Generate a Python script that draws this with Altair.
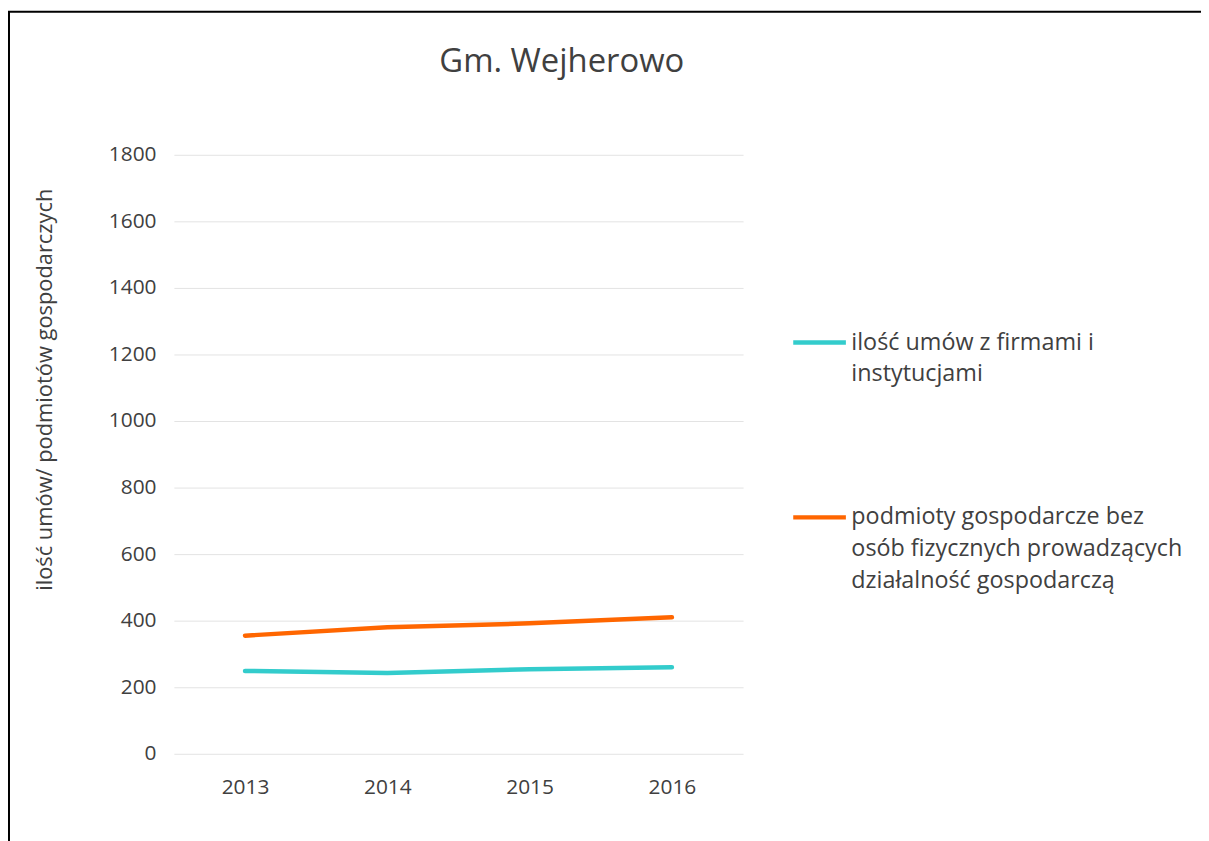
import altair as alt
import pandas as pd

years = ["2013", "2014", "2015", "2016"]
series_names = [
    "ilość umów z firmami i instytucjami",
    "podmioty gospodarcze bez osób fizycznych prowadzących działalność gospodarczą",
]
umowy = [249, 243, 254, 260]
podmioty = [355, 380, 392, 410]
y_ticks = [0, 200, 400, 600, 800, 1000, 1200, 1400, 1600, 1800]
colors = ["#33CCCC", "#FF6600"]

rows = []
for yr, v in zip(years, umowy):
    rows.append({"rok": yr, "seria": series_names[0], "wartosc": v})
for yr, v in zip(years, podmioty):
    rows.append({"rok": yr, "seria": series_names[1], "wartosc": v})
df = pd.DataFrame(rows)

FONT = "Open Sans"
TXT = "#404040"

label_expr = (
    "datum.label == '" + series_names[0] + "' ? ['ilość umów z firmami i', 'instytucjami'] : "
    "['podmioty gospodarcze bez', 'osób fizycznych prowadzących', 'działalność gospodarczą']"
)

lines = alt.Chart(df).mark_line(strokeWidth=4.5, strokeCap="round", strokeJoin="round").encode(
    x=alt.X("rok:O", sort=years, title=None,
            axis=alt.Axis(labelAngle=0, domain=False, ticks=False, grid=False,
                          labelPadding=23, labelFontSize=21, labelColor=TXT, labelFont=FONT)),
    y=alt.Y("wartosc:Q", scale=alt.Scale(domain=[0, 1800], nice=False),
            title="ilość umów/ podmiotów gospodarczych",
            axis=alt.Axis(values=y_ticks, format="d", domain=False, ticks=False, gridColor="#E3E3E3",
                          labelPadding=18, labelFontSize=21, labelColor=TXT, labelFont=FONT,
                          titleFontSize=22, titleFont=FONT, titleColor=TXT, titleFontWeight="normal",
                          titleX=-130, titleY=236, titleBaseline="middle")),
    color=alt.Color("seria:N", sort=series_names,
                    scale=alt.Scale(domain=series_names, range=colors),
                    legend=alt.Legend(title=None, orient="none", legendX=621, legendY=160,
                                      symbolType="stroke", symbolSize=2809, symbolStrokeWidth=4.5,
                                      labelFontSize=23.5, labelFont=FONT, labelColor=TXT,
                                      labelExpr=label_expr,
                                      labelLimit=500, labelOffset=3, rowPadding=103,
                                      labelBaseline="middle")),
)

frame_df = pd.DataFrame({"k": [0]})
frame = alt.Chart(frame_df).mark_rect(fill=None, stroke="black", strokeWidth=2).encode(
    x=alt.value(-166), x2=alt.value(1060), y=alt.value(-144), y2=alt.value(720)
)

chart = alt.layer(lines, frame).properties(
    width=573,
    height=603,
    title=alt.TitleParams("Gm. Wejherowo", fontSize=33, font=FONT, color=TXT,
                          fontWeight="normal", anchor="middle", dx=104, offset=0,
                          baseline="alphabetic", dy=95),
    padding={"left": 167, "top": 145, "right": 461, "bottom": 85},
    autosize=alt.AutoSizeParams(type="none"),
)
chart = chart.configure(style={"guide-label": {"lineHeight": 32}}).configure_view(stroke=None)

chart.save("out.html", embed_options={"renderer": "svg", "actions": False})
